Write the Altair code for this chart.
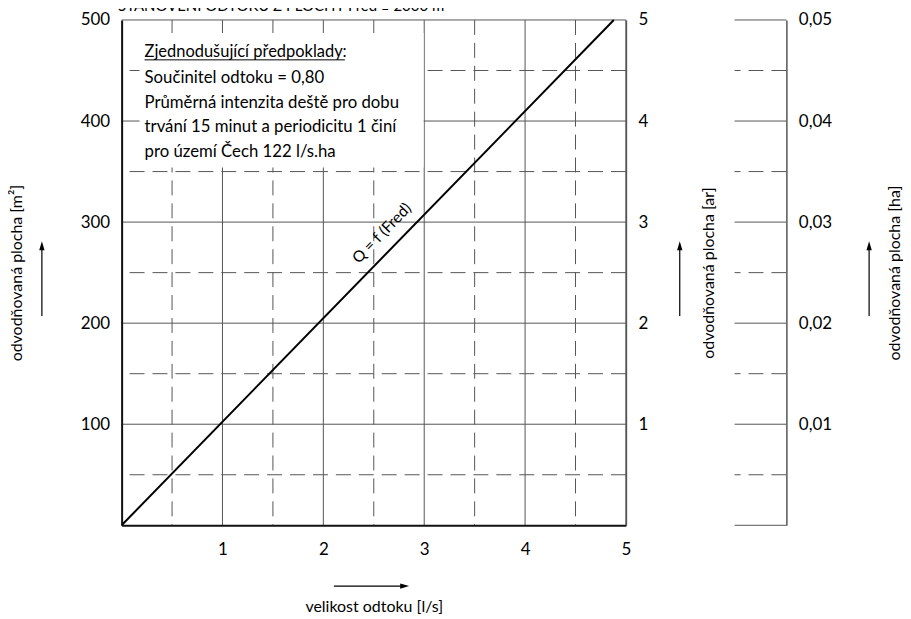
import altair as alt
import pandas as pd

FONT = "Lato"
GRID = "#555555"
DASH = [15, 8]

# ---- data ----
flow_ls = [0, 4.88]            # velikost odtoku [l/s]
area_m2 = [0, 500]             # odvodňovaná plocha [m²]
x_major = [1, 2, 3, 4, 5]
x_minor = [0.5, 1.5, 2.5, 3.5, 4.5]
y_major = [100, 200, 300, 400, 500]
y_minor = [50, 150, 250, 350, 450]
x_ticks = [1, 2, 3, 4, 5]
m2_ticks = [100, 200, 300, 400, 500]
ar_ticks = [1, 2, 3, 4, 5]
ha_major = [0, 0.01, 0.02, 0.03, 0.04, 0.05]
ha_minor = [0.005, 0.015, 0.025, 0.035, 0.045]
ha_ticks = [0.01, 0.02, 0.03, 0.04, 0.05]
note_head = "Zjednodušující předpoklady:"
note_lines = [
    "Součinitel odtoku = 0,80",
    "Průměrná intenzita deště pro dobu",
    "trvání 15 minut a periodicitu 1 činí",
    "pro území Čech 122 l/s.ha",
]
curve_label = ["Q = f (Fred)"]
curve_label_flow = [2.58]
curve_label_area = [289]
chart_title = "STANOVENÍ ODTOKU Z PLOCHY Fred ≤ 2000 m²"

W, H = 506, 507
one = pd.DataFrame({"k": [0]})
xs = alt.Scale(domain=[0, 5], nice=False, zero=True)
ys = alt.Scale(domain=[0, 500], nice=False, zero=True)

X_AXIS = alt.Axis(values=x_ticks, format="d", ticks=False, grid=False, labelPadding=16,
                  labelFlush=False, domainColor="#111111", domainWidth=2,
                  title="velikost odtoku [l/s]", titlePadding=42, zindex=1)
Y_AXIS = alt.Axis(values=m2_ticks, format="d", ticks=False, grid=False, labelPadding=12,
                  labelFlush=False, domainColor="#111111", domainWidth=2,
                  title="odvodňovaná plocha [m²]", titlePadding=56, zindex=1)
HA_AXIS = alt.Axis(orient="right", values=ha_ticks, ticks=False, grid=False, labelPadding=12,
                   labelFlush=False, labelExpr="replace(format(datum.value, '.2f'), '.', ',')",
                   domainColor=GRID, domainWidth=1.5, title="odvodňovaná plocha [ha]",
                   titleAngle=270, titleBaseline="top", titlePadding=55, zindex=1)

UP = "M0,-1L0.6,1L-0.6,1Z"
RIGHT = "M1,0L-1,0.6L-1,-0.6Z"

vmaj = alt.Chart(pd.DataFrame({"v": x_major})).mark_rule(color=GRID, strokeWidth=1).encode(
    x=alt.X("v:Q", scale=xs, axis=X_AXIS))
vmin = alt.Chart(pd.DataFrame({"v": x_minor})).mark_rule(color=GRID, strokeWidth=1, strokeDash=DASH).encode(
    x=alt.X("v:Q", scale=xs, axis=X_AXIS))
hmaj = alt.Chart(pd.DataFrame({"h": y_major})).mark_rule(color=GRID, strokeWidth=1).encode(
    y=alt.Y("h:Q", scale=ys, axis=Y_AXIS))
hmin = alt.Chart(pd.DataFrame({"h": y_minor})).mark_rule(color=GRID, strokeWidth=1, strokeDash=DASH).encode(
    y=alt.Y("h:Q", scale=ys, axis=Y_AXIS))

box = alt.Chart(one).mark_rect(color="white").encode(
    x=alt.value(18), x2=alt.value(303), y=alt.value(13), y2=alt.value(148))
head = alt.Chart(one).mark_text(align="left", baseline="alphabetic", font=FONT, fontSize=16.5,
                                color="black").encode(
    x=alt.value(23), y=alt.value(37), text=alt.value(note_head))
underline = alt.Chart(one).mark_rule(color="black", strokeWidth=1).encode(
    x=alt.value(23), x2=alt.value(224), y=alt.value(40))
body = [
    alt.Chart(one).mark_text(align="left", baseline="alphabetic", font=FONT, fontSize=16.8,
                             color="black").encode(
        x=alt.value(23), y=alt.value(63 + 24.9 * i), text=alt.value(t))
    for i, t in enumerate(note_lines)
]

line = alt.Chart(pd.DataFrame({"v": flow_ls, "h": area_m2})).mark_line(color="black", strokeWidth=2).encode(
    x=alt.X("v:Q", scale=xs, axis=X_AXIS), y=alt.Y("h:Q", scale=ys, axis=Y_AXIS))
lab = alt.Chart(pd.DataFrame({"v": curve_label_flow, "h": curve_label_area, "t": curve_label})).mark_text(
    angle=314, font=FONT, fontSize=15.5, color="black").encode(
    x=alt.X("v:Q", scale=xs, axis=X_AXIS), y=alt.Y("h:Q", scale=ys, axis=Y_AXIS), text="t:N")

def up_arrow(xpix):
    shaft = alt.Chart(one).mark_rule(color="black", strokeWidth=1.2).encode(
        x=alt.value(xpix), y=alt.value(228), y2=alt.value(297))
    tip = alt.Chart(one).mark_point(shape=UP, filled=True, color="black", size=80, opacity=1).encode(
        x=alt.value(xpix), y=alt.value(226.5))
    return [shaft, tip]

x_shaft = alt.Chart(one).mark_rule(color="black", strokeWidth=1.2).encode(
    x=alt.value(213), x2=alt.value(282), y=alt.value(568))
x_tip = alt.Chart(one).mark_point(shape=RIGHT, filled=True, color="black", size=80, opacity=1).encode(
    x=alt.value(284), y=alt.value(568))

inner = alt.layer(vmaj, vmin, hmaj, hmin, box, head, underline, *body, line, lab,
                  *up_arrow(-80), *up_arrow(560), x_shaft, x_tip)

ar_layer = alt.Chart(pd.DataFrame({"ar": ar_ticks})).mark_point(opacity=0, size=1).encode(
    y=alt.Y("ar:Q", scale=alt.Scale(domain=[0, 5], nice=False), axis=alt.Axis(
        orient="right", values=ar_ticks, format="d", ticks=False, grid=False, labelPadding=12,
        labelFlush=False, domainColor=GRID, domainWidth=1.5, title="odvodňovaná plocha [ar]",
        titleAngle=270, titleBaseline="top", titlePadding=53, zindex=1)))

main = alt.layer(inner, ar_layer).resolve_scale(y="independent").properties(width=W, height=H)

hs = alt.Scale(domain=[0, 0.05], nice=False, zero=True)
ha_maj = alt.Chart(pd.DataFrame({"ha": ha_major})).mark_rule(color=GRID, strokeWidth=1).encode(
    y=alt.Y("ha:Q", scale=hs, axis=HA_AXIS))
ha_min = alt.Chart(pd.DataFrame({"ha": ha_minor})).mark_rule(color=GRID, strokeWidth=1, strokeDash=DASH).encode(
    y=alt.Y("ha:Q", scale=hs, axis=HA_AXIS))
ha_panel = alt.layer(ha_maj, ha_min, *up_arrow(135)).properties(width=52, height=H)

chart = alt.hconcat(main, ha_panel, spacing=17).properties(
    title=alt.TitleParams(text=chart_title, anchor="start", font=FONT, fontSize=15,
                          fontWeight="normal", color="black", dx=110, offset=-3),
    padding={"top": -10, "left": 0, "right": 0, "bottom": 0},
).configure_view(stroke=None).configure_axis(
    labelFont=FONT, labelFontSize=17, labelColor="black",
    titleFont=FONT, titleFontSize=16, titleFontWeight="normal", titleColor="black",
)

chart.save("out.html", embed_options={"renderer": "svg", "actions": False})
